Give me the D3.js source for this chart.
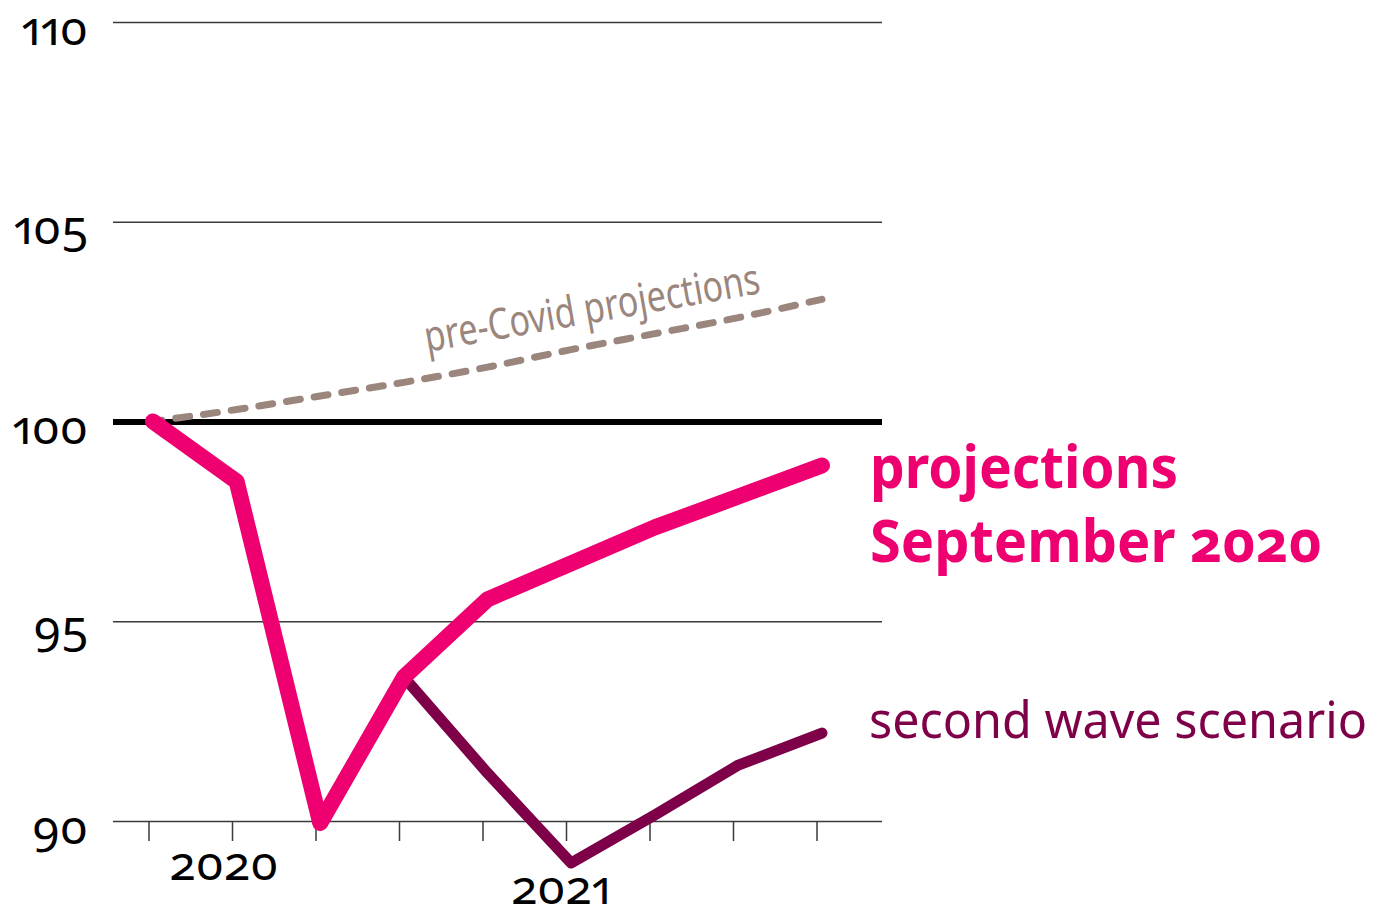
<!DOCTYPE html>
<html>
<head>
<meta charset="utf-8">
<script src="https://cdn.jsdelivr.net/npm/d3@7"></script>
<style>
  html, body { margin: 0; padding: 0; background: #fff; }
  svg { display: block; }
  text { font-family: "Noto Sans", "Open Sans", sans-serif; font-variant-numeric: oldstyle-nums proportional-nums; }
</style>
</head>
<body>
<svg id="chart" width="1381" height="909"></svg>
<script>
// Quarterly GDP index, 2019 Q4 = 100
const quarters = ["2019 Q4", "2020 Q1", "2020 Q2", "2020 Q3", "2020 Q4",
                  "2021 Q1", "2021 Q2", "2021 Q3", "2021 Q4"];
const septemberProjection = [100, 98.5, 89.95, 93.6, 95.55, 96.45, 97.35, 98.12, 98.9];
const secondWave = [null, null, null, 93.6, 91.2, 88.95, 90.15, 91.4, 92.2];
const preCovid = [100, 100.3, 100.64, 100.98, 101.36, 101.8, 102.2, 102.6, 103.06];
const yTicks = [90, 95, 100, 105, 110];
const yearLabels = ["2020", "2021"];
const yearQuarters = ["2020 Q1", "2021 Q1"];

const COLORS = { sept: "#ee0071", wave: "#7d0048", pre: "#9b867d", grid: "#3a3a3a" };

const svg = d3.select("#chart");
const plotLeft = 113, plotRight = 882;

const x = d3.scalePoint().domain(quarters).range([153, 822]);
const xTick = d3.scalePoint().domain(quarters).range([148.5, 816.5]);
const y = d3.scaleLinear().domain([90, 110]).range([821, 22]);

// Horizontal gridlines with left labels
const yAxis = svg.append("g")
  .attr("transform", `translate(${plotLeft},0)`)
  .call(d3.axisLeft(y).tickValues(yTicks).tickSize(-(plotRight - plotLeft)).tickFormat(d3.format("d")));
yAxis.select(".domain").remove();
yAxis.selectAll(".tick line")
  .attr("stroke", d => d === 100 ? "#000" : COLORS.grid)
  .attr("stroke-width", d => d === 100 ? 6 : 1.5);
yAxis.selectAll(".tick text")
  .attr("x", -25).attr("dy", null).attr("y", 22)
  .attr("fill", "#000")
  .style("font-size", "48px");

// Quarter tick marks below the 90 line
const xAxis = svg.append("g")
  .attr("transform", `translate(0,${y(90)})`)
  .call(d3.axisBottom(xTick).tickSize(20).tickFormat(""));
xAxis.select(".domain").remove();
xAxis.selectAll(".tick line").attr("stroke", COLORS.grid).attr("stroke-width", 1.5);

// Year labels, staggered
svg.append("g").selectAll("text")
  .data(yearLabels)
  .join("text")
  .attr("x", (d, i) => xTick(yearQuarters[i]) + (i === 0 ? -8 : -5))
  .attr("y", (d, i) => i === 0 ? 880 : 904)
  .attr("text-anchor", "middle")
  .attr("fill", "#000")
  .style("font-size", "48px")
  .text(d => d);

const line = d3.line()
  .defined(d => d.v != null)
  .x(d => x(d.q))
  .y(d => y(d.v));
const toPts = arr => quarters.map((q, i) => ({ q, v: arr[i] }));

// Pre-Covid projection (dashed)
svg.append("path")
  .datum(toPts(preCovid))
  .attr("d", line.curve(d3.curveMonotoneX))
  .attr("fill", "none")
  .attr("stroke", COLORS.pre)
  .attr("stroke-width", 7)
  .attr("stroke-linecap", "round")
  .attr("stroke-dasharray", "14,14")
  .attr("stroke-dashoffset", 5);
line.curve(d3.curveLinear);

svg.append("text")
  .attr("transform", "translate(427,352) rotate(-10)")
  .attr("fill", COLORS.pre)
  .attr("textLength", 340)
  .attr("lengthAdjust", "spacingAndGlyphs")
  .style("font-size", "43px")
  .text("pre-Covid projections");

// Second wave scenario
svg.append("path")
  .datum(toPts(secondWave))
  .attr("d", line)
  .attr("fill", "none")
  .attr("stroke", COLORS.wave)
  .attr("stroke-width", 11)
  .attr("stroke-linecap", "round")
  .attr("stroke-linejoin", "round");

// September 2020 projection
svg.append("path")
  .datum(toPts(septemberProjection))
  .attr("d", line)
  .attr("fill", "none")
  .attr("stroke", COLORS.sept)
  .attr("stroke-width", 16)
  .attr("stroke-linecap", "round")
  .attr("stroke-linejoin", "round");

// Series labels
const labels = svg.append("g");
labels.append("text")
  .attr("x", 870).attr("y", 488)
  .attr("fill", COLORS.sept)
  .attr("font-weight", 700)
  .attr("textLength", 308).attr("lengthAdjust", "spacingAndGlyphs")
  .style("font-size", "60px")
  .text("projections");
labels.append("text")
  .attr("x", 870).attr("y", 562)
  .attr("fill", COLORS.sept)
  .attr("font-weight", 700)
  .attr("textLength", 452).attr("lengthAdjust", "spacingAndGlyphs")
  .style("font-size", "60px")
  .text("September 2020");
labels.append("text")
  .attr("x", 869).attr("y", 738)
  .attr("fill", COLORS.wave)
  .attr("textLength", 498).attr("lengthAdjust", "spacingAndGlyphs")
  .style("font-size", "51px")
  .text("second wave scenario");
</script>
</body>
</html>
